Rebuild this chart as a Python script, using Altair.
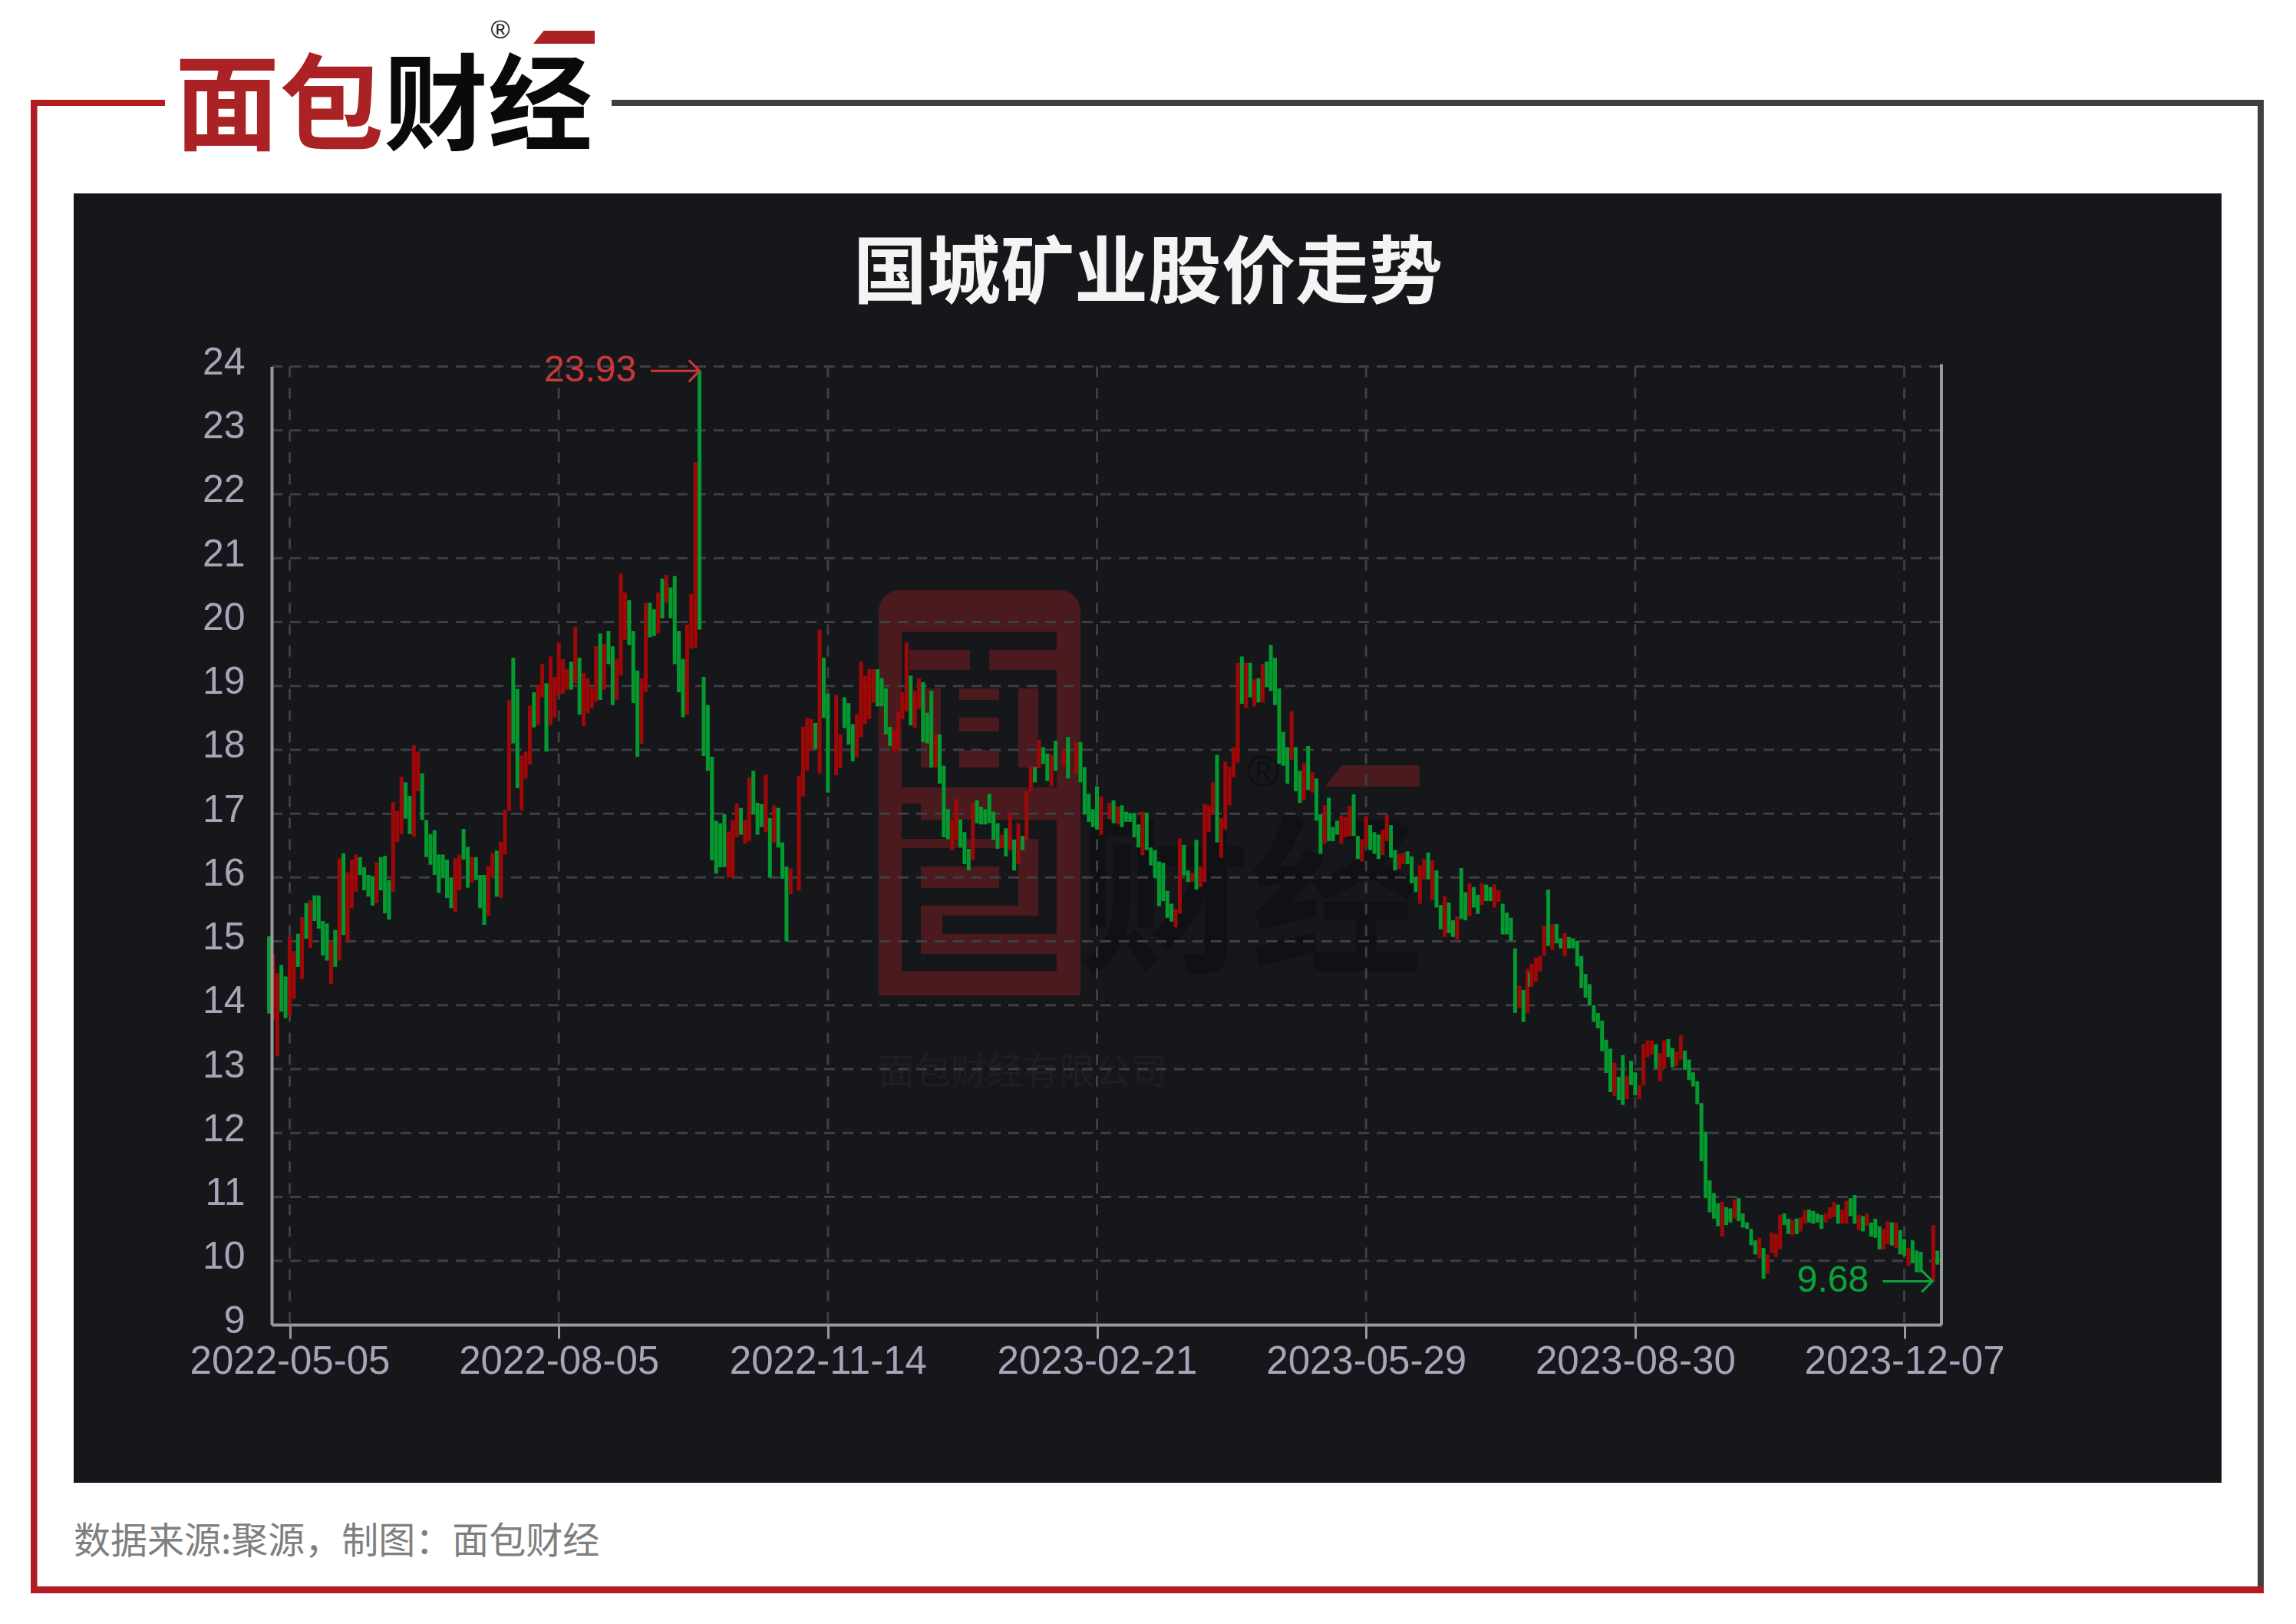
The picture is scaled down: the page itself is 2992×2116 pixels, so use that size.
import json
import altair as alt

# ---- chart values: (trading day, high, low, direction)
seg_2022_q2 = [
 (-5,15.08,13.87,'g'),(-4,14.8,13.77,'r'),(-3,14.5,13.2,'r'),(-2,14.63,13.9,'g'),(-1,14.45,13.8,'g'),
 (0,15.08,13.83,'r'),(1,14.85,14.1,'r'),(2,15.12,14.6,'g'),(3,15.38,14.41,'r'),(4,15.6,15.04,'g'),
 (5,15.64,14.9,'r'),(6,15.72,15.32,'g'),(7,15.72,15.2,'g'),(8,15.32,14.78,'g'),(9,15.28,14.7,'g'),
 (10,15.0,14.33,'r'),(11,15.18,14.6,'g'),(12,16.3,14.7,'r'),(13,16.38,15.1,'g'),(14,16.08,15.0,'r'),
 (15,16.28,15.52,'r'),(16,16.36,15.78,'r'),(17,16.32,16.04,'g'),(18,16.16,15.8,'g'),(19,16.04,15.7,'g'),
 (20,16.02,15.56,'g'),(21,16.24,15.6,'r'),(22,16.32,15.8,'g'),(23,16.34,15.44,'g'),(24,15.96,15.34,'g'),
 (25,17.18,15.78,'r'),(26,17.04,16.56,'r'),(27,17.58,16.68,'r'),(28,17.49,16.92,'g'),(29,17.28,16.68,'g'),
 (30,18.07,16.64,'r'),(31,17.97,17.35,'r'),(32,17.63,16.9,'g'),(33,16.9,16.32,'g'),(34,16.68,16.2,'g'),
 (35,16.74,16.04,'g'),(36,16.36,15.76,'g'),(37,16.36,16.0,'g'),(38,16.28,15.68,'g'),(39,16.0,15.52,'g'),
 (40,16.3,15.46,'r'),(41,16.36,15.8,'r'),(42,16.76,16.28,'g'),(43,16.48,15.84,'g'),(44,16.32,15.92,'r'),
 (45,16.32,15.96,'g'),(46,16.04,15.52,'g'),(47,16.04,15.26,'g'),(48,16.18,15.4,'r'),(49,16.38,16.0,'r'),
 (50,16.42,15.7,'g'),(51,16.56,15.68,'r'),(52,17.06,16.36,'r'),(53,18.78,17.04,'r'),
]
seg_2022_q3 = [
 (54,19.44,18.1,'g'),(55,18.95,17.4,'g'),(56,17.91,17.05,'r'),(57,17.97,17.55,'r'),(58,18.69,17.77,'r'),
 (59,18.9,18.35,'g'),(60,19.02,18.39,'r'),(61,19.34,18.82,'r'),(62,19.04,17.97,'g'),(63,19.46,18.39,'r'),
 (64,19.14,18.5,'r'),(65,19.68,18.86,'r'),(66,19.42,18.88,'r'),(67,19.26,18.94,'r'),(68,19.38,18.94,'g'),
 (69,19.92,19.04,'r'),(70,19.44,18.55,'g'),(71,19.2,18.37,'r'),(72,19.12,18.57,'r'),(73,18.98,18.65,'r'),
 (74,19.62,18.75,'r'),(75,19.82,18.78,'g'),(76,19.66,18.94,'r'),(77,19.86,19.34,'g'),(78,19.62,18.7,'g'),
 (79,19.42,18.78,'r'),(80,20.76,19.16,'r'),(81,20.46,19.72,'r'),(82,20.34,19.64,'g'),(83,19.86,18.73,'g'),
 (84,19.24,17.89,'g'),(85,19.12,18.09,'r'),(86,20.3,18.9,'r'),(87,20.3,19.76,'g'),(88,20.2,19.78,'g'),
 (89,20.46,19.82,'r'),(90,20.68,20.06,'g'),(91,20.74,20.3,'r'),(92,20.54,20.06,'g'),(93,20.72,19.34,'g'),
 (94,19.86,18.9,'g'),(95,19.42,18.51,'g'),(96,19.96,18.55,'r'),(97,20.44,19.58,'r'),(98,22.5,19.6,'r'),
 (99,23.93,19.88,'g'),(100,19.14,17.9,'g'),(101,18.7,17.67,'g'),(102,17.89,16.27,'g'),(103,16.89,16.06,'g'),
 (104,16.85,16.16,'g'),(105,16.99,16.16,'g'),
]
seg_2022_q4 = [
 (106,16.72,16.0,'r'),(107,16.9,16.0,'r'),(108,17.16,16.63,'r'),(109,17.09,16.67,'g'),(110,16.9,16.53,'r'),
 (111,17.57,16.57,'r'),(112,17.67,16.99,'g'),(113,17.17,16.67,'g'),(114,17.15,16.79,'g'),(115,17.61,16.71,'r'),
 (116,16.93,16.0,'g'),(117,17.13,16.55,'r'),(118,17.09,16.47,'g'),(119,16.55,15.98,'g'),(120,16.17,15.0,'g'),
 (121,16.14,15.74,'r'),(123,17.59,15.79,'r'),(124,18.36,17.27,'r'),(125,18.5,17.67,'r'),(126,18.48,18.0,'r'),
 (127,18.42,18.01,'g'),(128,19.88,17.63,'r'),(129,19.44,18.5,'g'),(130,18.88,17.33,'g'),(132,18.86,17.6,'r'),
 (133,18.24,17.71,'r'),(134,18.82,18.34,'g'),(135,18.73,18.08,'g'),(136,18.4,17.82,'g'),(137,18.56,17.88,'r'),
 (138,19.38,18.2,'r'),(139,19.16,18.4,'r'),(140,19.26,18.48,'r'),(141,19.26,18.74,'r'),(142,19.26,18.68,'g'),
 (143,19.12,18.68,'g'),(144,18.96,18.24,'g'),(145,18.36,18.06,'g'),(146,18.32,17.98,'r'),(147,18.6,18.0,'r'),
 (148,18.9,18.48,'r'),(149,19.68,18.6,'r'),(150,19.16,18.38,'g'),(151,18.92,18.34,'r'),(152,19.12,18.64,'r'),
 (153,19.06,18.12,'g'),(154,18.58,18.1,'g'),(155,18.92,17.72,'g'),(156,18.24,17.72,'r'),(157,18.24,17.47,'g'),
 (158,17.75,16.63,'g'),(159,17.07,16.6,'g'),(160,16.9,16.43,'r'),(161,17.23,16.6,'r'),(162,16.91,16.47,'g'),
 (163,16.71,16.21,'g'),(164,16.45,16.11,'g'),(165,17.17,16.27,'r'),(166,17.21,16.85,'g'),(167,17.11,16.83,'g'),
 (168,17.07,16.83,'g'),(169,17.31,16.85,'g'),(170,17.03,16.59,'g'),(171,16.85,16.45,'g'),(172,16.67,16.47,'r'),
 (173,16.77,16.33,'g'),(174,17.0,16.43,'r'),(175,16.59,16.11,'g'),(176,16.85,16.21,'r'),(177,16.65,16.43,'g'),
 (178,17.35,16.59,'r'),(179,17.75,17.35,'r'),(180,17.73,17.49,'g'),(181,18.16,17.71,'r'),(182,18.04,17.78,'g'),
 (183,17.94,17.51,'g'),(184,17.92,17.43,'r'),(185,18.14,17.67,'g'),(187,18.0,17.75,'r'),(188,18.2,17.55,'g'),
]
seg_2023_q1 = [
 (190,18.12,17.63,'r'),(191,18.12,17.49,'g'),(192,17.73,16.99,'g'),(193,17.31,16.87,'g'),(194,17.07,16.79,'g'),
 (195,17.43,16.75,'g'),(196,17.27,16.67,'r'),(198,17.17,16.91,'r'),(199,17.21,16.85,'g'),(200,17.11,16.83,'r'),
 (201,17.13,16.79,'g'),(202,17.03,16.87,'g'),(203,17.01,16.87,'g'),(204,17.01,16.63,'g'),(205,16.83,16.47,'g'),
 (206,17.03,16.35,'r'),(207,17.01,16.43,'g'),(208,16.47,16.19,'g'),(209,16.43,15.99,'g'),(210,16.25,15.55,'g'),
 (211,16.23,15.63,'g'),(212,15.79,15.37,'g'),(213,15.59,15.31,'g'),(214,15.51,15.22,'r'),(215,16.61,15.43,'r'),
 (216,16.51,16.03,'g'),(217,16.11,15.93,'g'),(218,16.07,15.93,'r'),(219,16.59,15.81,'g'),(220,16.17,15.85,'r'),
 (221,17.15,15.93,'r'),(222,17.13,16.71,'r'),(223,17.49,16.99,'r'),(224,17.92,16.55,'g'),(225,16.93,16.31,'r'),
 (226,17.81,16.75,'r'),(227,17.73,17.13,'r'),(228,18.04,17.57,'r'),(229,19.36,17.8,'r'),(230,19.46,18.72,'g'),
 (231,19.36,18.66,'r'),(232,19.36,18.82,'g'),(233,19.1,18.68,'r'),(234,19.12,18.74,'g'),(235,19.34,18.74,'r'),
 (236,19.38,18.98,'g'),(237,19.64,18.92,'g'),(238,19.44,18.7,'g'),(239,18.96,17.78,'g'),(240,18.28,17.75,'g'),
 (241,18.04,17.47,'g'),(242,18.6,17.84,'r'),(243,18.04,17.35,'g'),(244,17.67,17.17,'g'),(245,17.79,17.21,'r'),
 (246,18.06,17.37,'g'),(247,17.65,17.33,'r'),(248,17.55,16.89,'g'),(249,16.99,16.37,'g'),(250,17.13,16.53,'r'),
 (251,17.25,16.57,'g'),(252,16.79,16.57,'g'),(253,16.89,16.67,'g'),(254,16.97,16.53,'r'),(255,16.95,16.63,'r'),
]
seg_2023_q2 = [
 (256,17.12,16.65,'r'),(257,17.3,16.65,'g'),(258,16.65,16.29,'g'),(259,16.6,16.25,'r'),(260,16.96,16.49,'r'),
 (261,16.82,16.43,'g'),(262,16.71,16.37,'g'),(263,16.67,16.29,'g'),(264,16.75,16.35,'r'),(265,16.98,16.57,'r'),
 (266,16.82,16.31,'g'),(267,16.43,16.11,'g'),(268,16.37,16.13,'r'),(269,16.39,16.21,'r'),(270,16.41,16.21,'g'),
 (271,16.33,15.91,'g'),(272,16.01,15.77,'g'),(273,16.19,15.59,'r'),(274,16.29,15.97,'r'),(275,16.39,15.97,'g'),
 (276,16.27,15.65,'r'),(277,16.11,15.53,'g'),(278,15.57,15.19,'g'),(279,15.71,15.07,'r'),(280,15.61,15.13,'g'),
 (281,15.33,15.07,'g'),(282,15.39,15.03,'r'),(283,16.15,15.35,'g'),(284,15.77,15.33,'g'),(285,15.91,15.39,'r'),
 (286,15.85,15.53,'g'),(287,15.73,15.43,'g'),(288,15.91,15.57,'r'),(289,15.89,15.63,'g'),(290,15.85,15.63,'g'),
 (291,15.89,15.53,'r'),(292,15.8,15.62,'r'),(293,15.59,15.11,'g'),(294,15.45,15.11,'g'),(295,15.37,15.01,'g'),
 (296,14.89,13.88,'g'),(297,14.31,13.96,'r'),(298,14.24,13.74,'g'),(299,14.57,13.88,'r'),
]
seg_2023_q3 = [
 (299.6,14.51,14.29,'g'),(300,14.65,14.29,'r'),(301,14.75,14.37,'r'),(302,14.77,14.53,'r'),(303,15.25,14.77,'r'),
 (304,15.81,14.93,'g'),(305,15.27,14.87,'r'),(306,15.27,14.97,'g'),(307,15.05,14.89,'g'),(308,15.13,14.77,'r'),
 (309,15.07,14.89,'g'),(310,15.05,14.89,'g'),(311,15.01,14.61,'g'),(312,14.77,14.27,'g'),(313,14.49,14.12,'g'),
 (314,14.33,14.0,'g'),(315,14.0,13.74,'g'),(316,13.88,13.64,'g'),(317,13.76,13.28,'g'),(318,13.46,12.94,'g'),
 (319,13.32,12.64,'g'),(320,13.1,12.58,'r'),(321,12.88,12.52,'g'),(322,13.22,12.44,'g'),(323,12.89,12.53,'r'),
 (324,13.13,12.75,'g'),(325,12.95,12.59,'g'),(326,12.75,12.53,'r'),(327,13.39,12.75,'r'),(328,13.45,13.19,'r'),
 (329,13.45,13.23,'r'),(330,13.39,13.01,'g'),(331,13.25,12.81,'r'),(332,13.45,13.01,'r'),(333,13.47,13.19,'g'),
 (334,13.33,13.03,'g'),(335,13.27,13.05,'r'),(336,13.53,13.15,'r'),(337,13.29,12.99,'g'),(338,13.15,12.83,'g'),
 (339,12.95,12.73,'g'),(340,12.81,12.45,'g'),(341,12.47,11.56,'g'),(342,12.02,10.98,'g'),(343,11.26,10.76,'g'),
 (344,11.06,10.66,'g'),(345,10.9,10.54,'g'),(346,10.92,10.38,'r'),(347,10.84,10.56,'g'),(348,10.82,10.6,'g'),
]
seg_2023_q4 = [
 (349,10.96,10.66,'r'),(350,10.98,10.62,'g'),(351,10.74,10.52,'g'),(352,10.6,10.5,'g'),(353,10.5,10.24,'g'),
 (354,10.32,10.1,'g'),(355,10.36,10.04,'r'),(356,10.2,9.72,'g'),(357,10.1,9.8,'r'),(358,10.44,10.12,'r'),
 (359,10.42,10.06,'r'),(360,10.72,10.18,'r'),(361,10.74,10.56,'g'),(362,10.66,10.42,'g'),(363,10.64,10.4,'r'),
 (364,10.66,10.42,'g'),(365,10.68,10.46,'r'),(366,10.8,10.58,'r'),(367,10.8,10.6,'g'),(368,10.78,10.58,'g'),
 (369,10.74,10.6,'g'),(370,10.72,10.5,'g'),(371,10.74,10.6,'r'),(372,10.84,10.66,'r'),(373,10.92,10.68,'r'),
 (374,10.88,10.58,'g'),(375,10.8,10.58,'r'),(376,10.94,10.58,'r'),(377,10.98,10.7,'g'),(378,11.03,10.58,'g'),
 (379,10.72,10.48,'r'),(380,10.7,10.46,'g'),(381,10.74,10.54,'r'),(382,10.6,10.38,'g'),(383,10.66,10.36,'g'),
 (384,10.54,10.18,'g'),(385,10.5,10.18,'r'),(386,10.62,10.26,'r'),(387,10.6,10.24,'g'),(388,10.6,10.2,'r'),
 (389,10.48,10.1,'g'),(390,10.34,10.08,'g'),(391,10.2,9.92,'r'),(392,10.32,9.96,'g'),(393,10.16,9.82,'g'),
 (394,10.14,9.82,'g'),(397,10.56,9.68,'r'),(398,10.16,9.94,'g'),
]
y_ticks = list(range(9, 25))
x_tick_days = [0, 65, 130, 195, 260, 325, 390]
x_tick_labels = ["2022-05-05", "2022-08-05", "2022-11-14", "2023-02-21", "2023-05-29", "2023-08-30", "2023-12-07"]
high_note = {"day": 99, "price": 23.93, "arrow_from": 87.2, "label_day": 61.4}
low_note = {"day": 396.8, "price": 9.68, "arrow_from": 384.8, "label_day": 364.1}

# ---- layout (reference pixels)
AX_L, AX_R, AX_T, AX_B = 354, 2530, 477.5, 1726
W, H = AX_R - AX_L, AX_B - AX_T
PANEL = "#16171b"
RED_FRAME, GREY_FRAME = "#b21c22", "#404040"
WM = "#4a1a1e"
RED, GREEN = "#a00808", "#049a30"
CJK = "Noto Sans CJK SC"
LAT = "Liberation Sans"

one = alt.Data(values=[{"a": 1}])
xs = alt.Scale(domain=[(AX_L - 377.5) / 5.395, (AX_R - 377.5) / 5.395], nice=False, zero=False)
ys = alt.Scale(domain=[9, 24], nice=False, zero=False)
x_axis = alt.Axis(
    values=x_tick_days, grid=False, title=None,
    labelExpr=f"{json.dumps(x_tick_labels)}[indexof({json.dumps(x_tick_days)}, datum.value)]",
    labelFont=LAT, labelFontSize=51, labelColor="#a6a6b8", labelPadding=5, labelOverlap=False, labelLimit=500,
    labelFlush=False, tickSize=18, tickWidth=3, tickColor="#9a9a9a", domainColor="#9a9a9a", domainWidth=4, zindex=1)
y_axis = alt.Axis(
    values=y_ticks, grid=False, title=None, format="d", ticks=False,
    labelFont=LAT, labelFontSize=50, labelColor="#a6a6b8", labelPadding=35, labelOffset=-5,
    labelOverlap=False, labelFlush=False, domainColor="#9a9a9a", domainWidth=4, zindex=1)


def box(x0, y0, x1, y1, color, **kw):
    return alt.Chart(one).mark_rect(color=color, **kw).encode(
        x=alt.value(x0 - AX_L), x2=alt.value(x1 - AX_L),
        y=alt.value(y0 - AX_T), y2=alt.value(y1 - AX_T))


def label(text, x, y, size, color, font=CJK, align="left", weight="normal"):
    return alt.Chart(one).mark_text(text=text, fontSize=size, font=font, color=color, align=align,
                                    baseline="middle", fontWeight=weight).encode(
        x=alt.value(x - AX_L), y=alt.value(y - AX_T))


def slanted(cx, cy, width, height, color):
    h = height / width
    return alt.Chart(one).mark_point(
        shape=f"M-1,{h} L{-1 + 2 * h * 0.8},{-h} L1,{-h} L1,{h} Z",
        filled=True, color=color, opacity=1, size=width * width, strokeWidth=0).encode(
        x=alt.value(cx - AX_L), y=alt.value(cy - AX_T))


frame = [
    box(40, 130, 215, 138, RED_FRAME), box(797, 130, 2950, 138, GREY_FRAME),
    box(2942, 130, 2950, 2076, GREY_FRAME), box(40, 130, 48.5, 2076, RED_FRAME),
    box(40, 2067, 2950, 2076, RED_FRAME),
]
logo = [
    label("面包", 228, 144, 136, "#ab2224", weight="bold"),
    label("财经", 500, 144, 136, "#0a0a0a", weight="bold"),
    slanted(735, 48.5, 80, 17, "#ab2224"),
    label("®", 652, 40, 34, "#222222", font=LAT, align="center"),
]
panel = [box(96, 252, 2895, 1932, PANEL)]
watermark = [
    box(1145, 769, 1408, 823, WM, cornerRadiusTopLeft=50, cornerRadiusTopRight=50),
    box(1145, 800, 1175, 1297, WM), box(1377, 800, 1408, 1297, WM),
    box(1185, 847, 1264, 873, WM), box(1289, 847, 1377, 873, WM),
    box(1200, 897, 1226, 1000, WM), box(1327, 897, 1353, 1000, WM),
    box(1250, 897, 1302, 912, WM), box(1250, 935, 1302, 953, WM), box(1250, 977, 1302, 1000, WM),
    box(1145, 1026, 1408, 1047, WM), box(1200, 1047, 1408, 1068, WM),
    box(1175, 1093, 1353, 1105, WM), box(1327, 1093, 1353, 1193, WM),
    box(1200, 1129, 1302, 1157, WM), box(1200, 1180, 1353, 1193, WM),
    box(1200, 1193, 1228, 1243, WM), box(1200, 1217, 1408, 1243, WM),
    box(1145, 1265, 1408, 1297, WM),
    label("财经", 1404, 1182, 225, "#101115", weight="bold"),
    slanted(1788, 1011, 123, 28, WM),
    label("®", 1646, 1008, 58, "#0f1014", font=LAT, align="center"),
    label("面包财经有限公司", 1145, 1398, 47, "#1d1f23"),
]

grid_color = "#3d3f43"
grid_h = alt.Chart(alt.Data(values=[{"v": v} for v in y_ticks[1:]])).mark_rule(
    color=grid_color, strokeWidth=3, strokeDash=[14, 10]).encode(
    y=alt.Y("v:Q", scale=ys, axis=y_axis), x=alt.value(0), x2=alt.value(W))
grid_v = alt.Chart(alt.Data(values=[{"v": v} for v in x_tick_days])).mark_rule(
    color=grid_color, strokeWidth=3, strokeDash=[14, 14]).encode(
    x=alt.X("v:Q", scale=xs, axis=x_axis), y=alt.value(0), y2=alt.value(H))

rows = seg_2022_q2 + seg_2022_q3 + seg_2022_q4 + seg_2023_q1 + seg_2023_q2 + seg_2023_q3 + seg_2023_q4
candles = alt.Chart(alt.Data(values=[{"day": d, "high": h, "low": l, "move": m} for d, h, l, m in rows])).mark_rule(
    strokeWidth=5).encode(
    x=alt.X("day:Q", scale=xs, axis=x_axis),
    y=alt.Y("low:Q", scale=ys, axis=y_axis),
    y2="high:Q",
    color=alt.Color("move:N", scale=alt.Scale(domain=["r", "g"], range=[RED, GREEN]), legend=None),
)
right_edge = alt.Chart(one).mark_rule(color="#9a9a9a", strokeWidth=4).encode(
    x=alt.value(W), y=alt.value(-3), y2=alt.value(H))


def note(info, text, color):
    d = alt.Data(values=[info])
    shaft = alt.Chart(d).mark_rule(color=color, strokeWidth=3).encode(
        x=alt.X("arrow_from:Q", scale=xs, axis=x_axis), x2="day:Q", y=alt.Y("price:Q", scale=ys, axis=y_axis))
    head = alt.Chart(d).mark_point(shape="M-1,-1 L0,0 L-1,1", filled=False, color=color, opacity=1,
                                   size=28 * 28, strokeWidth=3).encode(
        x=alt.X("day:Q", scale=xs, axis=x_axis), y=alt.Y("price:Q", scale=ys, axis=y_axis))
    tag = alt.Chart(d).mark_text(text=text, fontSize=48, font=LAT, color=color, align="left", baseline="middle").encode(
        x=alt.X("label_day:Q", scale=xs, axis=x_axis), y=alt.Y("price:Q", scale=ys, axis=y_axis))
    return [shaft, head, tag]


title = label("国城矿业股价走势", 1496, 358, 96, "#f4f4f4", align="center", weight="bold")
source = label("数据来源:聚源，制图：面包财经", 96, 2010, 48, "#7f7f7f")

layers = frame + logo + panel + watermark + [grid_h, grid_v, candles, right_edge] \
    + note(high_note, "23.93", "#c8383a") + note(low_note, "9.68", "#0aa33a") + [title, source]

chart = alt.layer(*layers).properties(
    width=W, height=H, background="white", autosize="none",
    padding={"left": AX_L - 8, "top": AX_T - 8, "right": 2976 - (AX_R - 8), "bottom": 2092 - (AX_B - 8)},
).configure_view(stroke=None)

chart.save("out.html", embed_options={"renderer": "svg", "actions": False})
